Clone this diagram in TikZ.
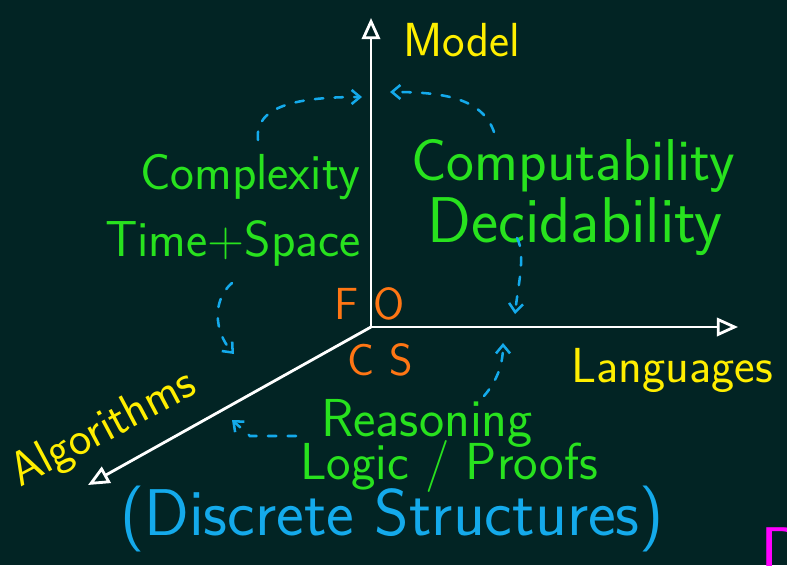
\documentclass[tikz,border=0pt]{standalone}
\usepackage{tikz}
\usetikzlibrary{arrows.meta}
\providecommand{\fsz}[1]{\fontsize{#1}{#1}\selectfont}
\definecolor{board}{RGB}{2,36,36}
\definecolor{penyellow}{RGB}{255,238,0}
\definecolor{pengreen}{RGB}{40,226,30}
\definecolor{penorange}{RGB}{255,118,20}
\definecolor{penblue}{RGB}{20,170,235}
\definecolor{penpink}{RGB}{255,0,255}

\begin{document}
\begin{tikzpicture}[
  x=0.025cm, y=-0.025cm,
  axis/.style={draw=white, line width=2pt, -{Triangle[open, length=15pt, width=13pt, line width=2pt]}},
  hint/.style={draw=penblue, line width=1.8pt, dash pattern=on 6pt off 8pt, line cap=round,
               -{Straight Barb[length=6pt, width=10pt, line width=1.8pt]}},
  ax/.style={text=penyellow, inner sep=0pt, font=\sffamily\fsz{34pt}},
  topic/.style={text=pengreen, inner sep=0pt, font=\sffamily\fsz{36pt}},
  cs/.style={text=penorange, inner sep=0pt, font=\sffamily\fsz{32pt}},
]

% ---------------- board ----------------
\useasboundingbox (0,0) rectangle (787,565);
\fill[board] (0,0) rectangle (787,565);
\clip (0,0) rectangle (787,565);

% ---------------- the three axes ----------------
\coordinate (o)    at (371,327);
\coordinate (ytip) at (371,18);
\coordinate (xtip) at (738,327);
\coordinate (ztip) at (88,485);

\draw[axis] (o) -- (ytip);
\draw[axis] (o) -- (xtip);
\draw[axis] (o) -- (ztip);

\node[ax] (model) at (462,40)  {Model};
\node[ax, font=\sffamily\fsz{35pt}] (lang) at (672,370) {Languages};
\node[ax, rotate=28] (algo) at (104,430) {Algorithms};

% ---------------- origin ----------------
\node[cs] (fo) at (370,304) {F\,\,O};
\node[cs] (cs) at (380,360) {C\,\,S};

% ---------------- topics between the axes ----------------
\node[topic] (cplx) at (250,177) {Complexity};
\node[topic] (ts)   at (233,243) {Time+Space};
\node[topic, font=\sffamily\fsz{42pt}] (comp) at (573,166) {Computability};
\node[topic, font=\sffamily\fsz{46pt}] (dec)  at (575,227) {Decidability};
\node[topic, font=\sffamily\fsz{38pt}] (reas) at (427,423) {Reasoning};
\node[topic, font=\sffamily\fsz{37pt}] (logic) at (449,466) {Logic / Proofs};
\node[text=penblue, inner sep=0pt, font=\sffamily\fsz{47pt}] (disc) at (392,519) {(Discrete Structures)};
\node[text=penpink, inner sep=0pt, anchor=north west, font=\sffamily\fsz{50pt}] (dmark) at (760,527) {D};

% ---------------- dashed hints to the axes ----------------
\coordinate (h1a) at (258,140);  \coordinate (h1b) at (362,97);
\coordinate (h2a) at (494,132);  \coordinate (h2b) at (390,92);
\coordinate (h3a) at (517,238);  \coordinate (h3b) at (515,314);
\coordinate (h4a) at (232,283);  \coordinate (h4b) at (234,354);
\coordinate (h5a) at (484,396);  \coordinate (h5b) at (503,343);
\coordinate (h6a) at (296,436);  \coordinate (h6b) at (232,420);

\draw[hint] (h1a) .. controls (254,105) and (300,97) .. (h1b);
\draw[hint] (h2a) .. controls (482,97) and (440,92) .. (h2b);
\draw[hint] (h3a) .. controls (526,255) and (518,285) .. (h3b);
\draw[hint] (h4a) .. controls (212,300) and (214,332) .. (h4b);
\draw[hint] (h5a) .. controls (496,382) and (503,366) .. (h5b);
\draw[hint] (h6a) -- (250,436) -- (h6b);

\end{tikzpicture}
\end{document}
